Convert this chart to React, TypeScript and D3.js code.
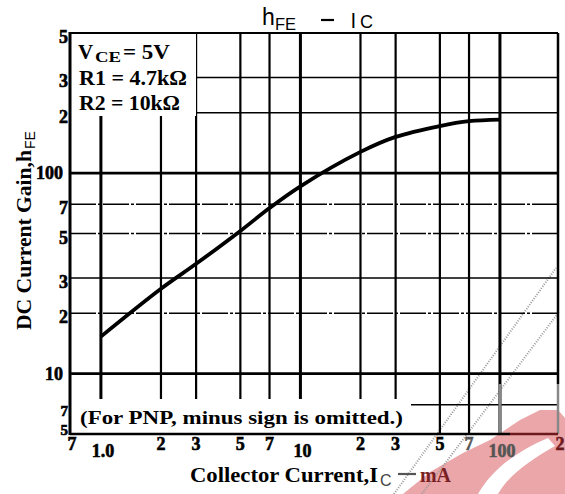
import * as d3 from 'd3';

// hFE vs IC curve
const icValues = [1, 2, 3, 5, 7, 10, 20, 30, 50, 70, 100];
const hfeValues = [15.3, 26.5, 35.3, 51.5, 67, 86, 127.6, 151.6, 171.8, 181.6, 185];

const xGridValues = [1, 2, 3, 5, 7, 10, 20, 30, 50, 70, 100];
const yGridValues = [7, 10, 20, 30, 50, 70, 100, 200, 300];

const xTickValues = [0.7, 1, 2, 3, 5, 7, 10, 20, 30, 50, 70, 100, 200];
const xTickLabels = ['7', '1.0', '2', '3', '5', '7', '10', '2', '3', '5', '7', '100', '2'];
const yTickValues = [5, 7, 10, 20, 30, 50, 70, 100, 200, 300, 500];
const yTickLabels = ['5', '7', '10', '2', '3', '5', '7', '100', '2', '3', '5'];

const WIDTH = 565;
const HEIGHT = 494;
const SERIF = '"Liberation Serif", "DejaVu Serif", serif';
const SANS = '"Liberation Sans", Arial, sans-serif';

const isDecade = (v: number) => Math.abs(Math.log10(v) - Math.round(Math.log10(v))) < 1e-9;

export default function App() {
  const x = d3.scaleLog().domain([0.7, 200]).range([70, 560]);
  const y = d3.scaleLog().domain([5, 500]).range([434, 33]);
  const [x0] = x.range();
  const x1 = 558;
  const [y0, y1] = y.range();

  const points = icValues.map((v, i) => [x(v), y(hfeValues[i])] as [number, number]);
  const curve = d3.line().curve(d3.curveCatmullRom.alpha(0.5))(points) ?? '';

  // white label boxes that cut the grid
  const topBox = { x: x0 + 1, y: y1 + 1, w: 125, h: 82 };
  const botBox = { x: x0 + 1, y: 399, w: 340, h: y0 - 399 - 1 };

  return (
    <svg
      width={WIDTH}
      height={HEIGHT}
      style={{ position: 'absolute', left: 0, top: 0, background: '#fff' }}
    >
      {/* watermark */}
      <path
        d="M403,494 L430,472 L463,453 L490,440 L520,420 L540,410 L558,410 L565,418 L565,494 Z"
        fill="#eba6a9"
      />
      <path d="M478,494 C492,470 515,452 548,438 L555,446 C530,460 508,476 498,494 Z" fill="#fff" />
      <line x1={394} y1={494} x2={556} y2={268} stroke="#9a9a9a" strokeWidth={2} strokeDasharray="1 1.5" />
      <line x1={422} y1={494} x2={559} y2={312} stroke="#9a9a9a" strokeWidth={2} strokeDasharray="1 1.5" />

      {/* grid */}
      {xGridValues.map((v) => (
        <line
          key={'gx' + v}
          x1={x(v)}
          x2={x(v)}
          y1={y1}
          y2={y0}
          stroke="#000"
          strokeWidth={isDecade(v) ? 3 : 2.2}
        />
      ))}
      {yGridValues.map((v) => (
        <line
          key={'gy' + v}
          x1={x0}
          x2={x1}
          y1={y(v)}
          y2={y(v)}
          stroke="#000"
          strokeWidth={isDecade(v) ? 2.6 : 1.6}
          strokeDasharray={[20, 50, 70].includes(v) ? '26 2 3 2' : undefined}
        />
      ))}
      {/* faded part under the watermark */}
      <line x1={x(100)} x2={x(100)} y1={384} y2={y0} stroke="#888" strokeWidth={3} />

      <rect x={topBox.x} y={topBox.y} width={topBox.w} height={topBox.h} fill="#fff" />
      <rect x={botBox.x} y={botBox.y} width={botBox.w} height={botBox.h} fill="#fff" />

      {/* curve */}
      <path d={curve} fill="none" stroke="#000" strokeWidth={3.8} />

      {/* frame */}
      <line x1={x0} x2={x0} y1={y1 - 1} y2={y0 + 1} stroke="#000" strokeWidth={3} />
      <line x1={x0} x2={x1} y1={y1} y2={y1} stroke="#000" strokeWidth={2} />
      <line x1={x1} x2={x1} y1={y1} y2={384} stroke="#000" strokeWidth={2.5} />
      <line x1={x1} x2={x1} y1={384} y2={y0} stroke="#888" strokeWidth={2.5} />
      <line x1={x0} x2={510} y1={y0} y2={y0} stroke="#000" strokeWidth={2.5} />
      <line x1={510} x2={x1} y1={y0} y2={y0} stroke="#6e1a1d" strokeWidth={2.5} />

      {/* y tick labels */}
      <g fontFamily={SERIF} fontWeight="bold" textAnchor="end" stroke="#000" strokeWidth={0.6}>
        {yTickValues.map((v, i) => {
          const big = isDecade(v) && v >= 10;
          let off = big ? 6 : 10;
          let size = 18;
          if (i === 0) {
            off = 1;
            size = 15;
          }
          if (i === 1) {
            off = 11;
            size = 15;
          }
          return (
            <text key={'yt' + i} x={big ? 63 : 68} y={y(v) + off} fontSize={size}>
              {yTickLabels[i]}
            </text>
          );
        })}
      </g>

      {/* x tick labels */}
      <g fontFamily={SERIF} fontWeight="bold" fontSize={18} textAnchor="middle">
        {xTickValues.map((v, i) => {
          const big = isDecade(v);
          const faded = v === 70 || v === 100;
          const red = v === 200;
          const c = red ? '#6e1a1d' : faded ? '#555' : '#000';
          return (
            <text
              key={'xt' + i}
              x={x(v) + (big ? 2 : i === 0 ? 2 : 0)}
              y={big ? 457 : 450}
              fill={c}
              stroke={c}
              strokeWidth={0.6}
            >
              {xTickLabels[i]}
            </text>
          );
        })}
      </g>

      {/* condition notes */}
      <g fontFamily={SERIF} fontWeight="bold" fontSize={21}>
        <text x={78} y={59}>V</text>
        <text x={95} y={62} fontSize={14} textLength={26} lengthAdjust="spacingAndGlyphs">CE</text>
        <text x={123} y={59} textLength={47} lengthAdjust="spacingAndGlyphs">= 5V</text>
        <text x={79} y={85} textLength={108} lengthAdjust="spacingAndGlyphs">R1 = 4.7kΩ</text>
        <text x={79} y={110} textLength={101} lengthAdjust="spacingAndGlyphs">R2 = 10kΩ</text>
      </g>
      <text
        x={80}
        y={424}
        fontFamily={SERIF}
        fontWeight="bold"
        fontSize={18}
        textLength={323}
        lengthAdjust="spacingAndGlyphs"
      >
        (For PNP, minus sign is omitted.)
      </text>

      {/* title */}
      <g fontFamily={SANS}>
        <text x={262} y={25} fontSize={23}>h</text>
        <text x={275} y={30} fontSize={16.5}>FE</text>
        <line x1={321} x2={334} y1={20} y2={20} stroke="#000" strokeWidth={2.2} />
        <text x={351} y={28} fontSize={21}>l</text>
        <text x={360} y={28} fontSize={18}>C</text>
      </g>

      {/* axis titles */}
      <g fontFamily={SERIF} fontWeight="bold" fontSize={20}>
        <text x={190} y={482} textLength={188} lengthAdjust="spacingAndGlyphs">Collector Current,I</text>
        <text x={380} y={486} fontFamily={SANS} fontWeight="normal" fontSize={16} fill="#444">C</text>
        <line x1={398} x2={416} y1={474} y2={474} stroke="#555" strokeWidth={2.2} />
        <text x={420} y={482} fill="#7a1f22" textLength={31} lengthAdjust="spacingAndGlyphs">mA</text>
      </g>
      <g transform="translate(31,0) rotate(-90)" fontFamily={SERIF} fontWeight="bold" fontSize={20}>
        <text x={-330} y={0} textLength={180} lengthAdjust="spacingAndGlyphs">DC Current Gain,h</text>
        <text x={-149} y={4} fontFamily={SANS} fontWeight="normal" fontSize={14}>FE</text>
      </g>
    </svg>
  );
}
